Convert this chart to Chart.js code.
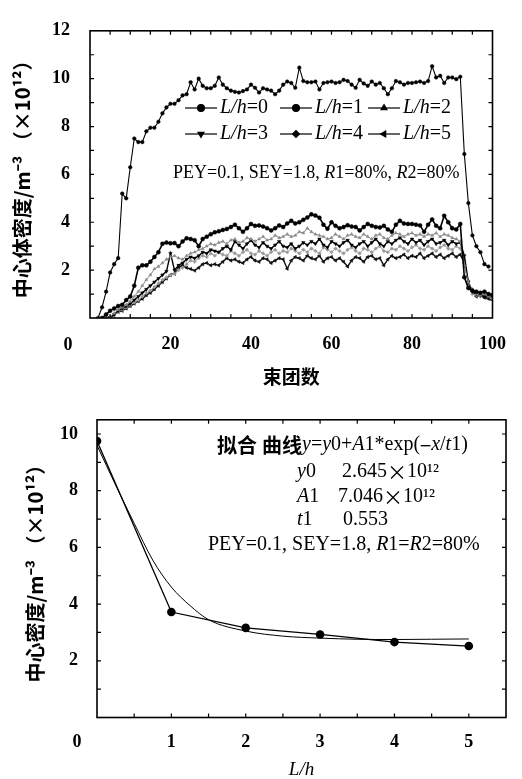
<!DOCTYPE html>
<html>
<head>
<meta charset="utf-8">
<script src="https://cdn.jsdelivr.net/npm/chart.js@4.4.1/dist/chart.umd.min.js"></script>
<style>
  body { margin: 0; background: #fff; }
  canvas { display: block; }
</style>
</head>
<body>
<canvas id="bunch-chart" width="522" height="390"></canvas>
<canvas id="fit-chart" width="522" height="389"></canvas>
<script>
// bunch index (x) for the upper plot
const bunches = [
  1, 2, 3, 4, 5, 6, 7, 8, 9, 10, 11, 12, 13, 14, 15, 16, 17, 18, 19, 20,
  21, 22, 23, 24, 25, 26, 27, 28, 29, 30, 31, 32, 33, 34, 35, 36, 37, 38, 39, 40,
  41, 42, 43, 44, 45, 46, 47, 48, 49, 50, 51, 52, 53, 54, 55, 56, 57, 58, 59, 60,
  61, 62, 63, 64, 65, 66, 67, 68, 69, 70, 71, 72, 73, 74, 75, 76, 77, 78, 79, 80,
  81, 82, 83, 84, 85, 86, 87, 88, 89, 90, 91, 92, 93, 94, 95, 96, 97, 98, 99, 100,
];

const seriesNames = ['L/h=0', 'L/h=1', 'L/h=2', 'L/h=3', 'L/h=4', 'L/h=5'];

// center density (x10^12 m^-3) per bunch
const lh0 = [
  null, 0, 0.45, 1.1, 1.9, 2.25, 2.5, 5.2, 5.0, 6.3,
  7.5, 7.35, 7.35, 7.8, 7.95, 7.95, 8.2, 8.55, 8.8, 8.95,
  8.95, 9.1, 9.3, 9.35, 9.85, 9.55, 10.0, 9.7, 9.6, 9.6,
  9.7, 10.05, 9.75, 9.6, 9.5, 9.45, 9.42, 9.48, 9.55, 9.75,
  9.62, 9.42, 9.6, 9.55, 9.5, 9.35, 9.5, 9.75, 9.88, 9.82,
  9.62, 10.46, 9.9, 9.85, 9.85, 9.88, 9.55, 9.82, 9.85, 9.88,
  9.82, 9.85, 9.95, 9.9, 9.75, 9.62, 9.95, 9.8, 9.7, 9.88,
  9.75, 9.82, 9.6, 9.35, 9.6, 9.9, 9.85, 9.75, 9.82, 9.82,
  9.85, 9.88, 9.82, 9.9, 10.52, 10.05, 10.12, 9.82, 10.05, 10.05,
  9.98, 10.08, 6.85, 4.8, 3.45, 3.0, 2.75, 2.25, 2.15, null,
];
const lh1 = [
  null, null, 0, 0.15, 0.3, 0.4, 0.5, 0.55, 0.75, 0.9,
  1.35, 2.1, 2.2, 2.2, 2.35, 2.55, 2.75, 3.1, 3.15, 3.12,
  3.13, 3.0, 3.2, 3.33, 3.3, 3.25, 3.0, 3.3, 3.4, 3.5,
  3.58, 3.62, 3.68, 3.72, 3.8, 3.9, 3.75, 3.6, 3.75, 3.93,
  3.85, 3.87, 3.82, 3.75, 3.66, 3.75, 3.87, 3.8, 3.95, 4.06,
  3.95, 4.0, 4.1, 4.2, 4.33, 4.28, 4.19, 3.9, 3.73, 4.0,
  3.85, 3.75, 3.8, 3.88, 3.82, 3.8, 3.66, 3.8, 3.93, 3.85,
  3.8, 3.78, 3.85, 3.7, 3.6, 3.9, 4.06, 3.95, 3.93, 3.93,
  3.9, 3.87, 3.6, 3.9, 4.12, 3.85, 3.75, 4.27, 4.0, 3.75,
  3.7, 3.93, 1.7, 1.25, 1.15, 1.1, 1.05, 1.1, 1.0, 0.95,
];
const lh2 = [
  null, null, null, 0, 0.05, 0.2, 0.35, 0.45, 0.55, 0.7,
  0.9, 1.1, 1.35, 1.6, 1.8, 2.05, 2.15, 2.3, 2.45, 2.55,
  2.6, 2.5, 2.45, 2.6, 2.7, 2.75, 2.85, 2.9, 3.0, 3.1,
  3.05, 3.15, 3.2, 3.1, 3.25, 3.3, 3.15, 3.2, 3.35, 3.3,
  3.2, 3.3, 3.4, 3.25, 3.3, 3.45, 3.35, 3.4, 3.5, 3.4,
  3.45, 3.6, 3.55, 3.75, 3.6, 3.5, 3.45, 3.4, 3.3, 3.35,
  3.5, 3.4, 3.3, 3.45, 3.5, 3.4, 3.35, 3.5, 3.4, 3.3,
  3.45, 3.5, 3.35, 3.3, 3.45, 3.55, 3.5, 3.4, 3.5, 3.55,
  3.45, 3.5, 3.4, 3.5, 3.45, 3.55, 3.4, 3.5, 3.45, 3.35,
  3.3, 3.2, 2.2, 1.5, 1.2, 1.0, 0.95, 1.0, 0.9, 0.85,
];
const lh3 = [
  null, null, null, null, 0, 0.15, 0.3, 0.4, 0.5, 0.6,
  0.75, 0.9, 1.05, 1.2, 1.35, 1.5, 1.65, 1.8, 1.95, 2.7,
  2.0, 2.2, 2.3, 2.45, 2.55, 2.5, 2.6, 2.75, 2.7, 2.85,
  2.8, 2.75, 2.9, 3.0, 2.85, 3.2, 3.05, 2.9, 3.1, 3.25,
  3.05, 2.95, 3.15, 3.0, 2.9, 3.05, 3.2, 3.0, 2.95, 3.1,
  2.9, 3.0, 3.15, 3.05, 3.2, 3.1, 3.3, 3.05, 2.95, 3.2,
  3.1, 3.0, 3.15, 3.25, 3.05, 2.95, 3.1, 3.2, 3.0, 3.15,
  3.3, 3.1, 3.0, 3.2, 3.1, 3.25, 3.35, 3.2, 3.1, 3.3,
  3.15, 3.25, 3.05, 3.2, 3.3, 3.1, 3.15, 3.25, 3.05, 3.2,
  3.1, 3.15, 2.6, 1.5, 1.1, 1.0, 0.95, 0.9, 0.85, 0.9,
];
const lh4 = [
  null, null, null, null, 0, 0.1, 0.25, 0.35, 0.45, 0.55,
  0.65, 0.75, 0.9, 1.05, 1.15, 1.3, 1.45, 1.6, 1.7, 1.8,
  1.85, 2.0, 2.1, 2.25, 2.4, 2.35, 2.5, 2.6, 2.55, 2.7,
  2.6, 2.75, 2.65, 2.6, 2.8, 2.7, 2.6, 2.75, 2.85, 2.7,
  2.65, 2.8, 2.7, 2.6, 2.75, 2.85, 2.7, 2.8, 2.75, 2.9,
  2.8, 2.7, 2.85, 2.75, 2.9, 2.8, 2.7, 2.95, 2.85, 2.75,
  2.9, 2.8, 2.7, 2.85, 2.95, 2.8, 2.7, 2.9, 2.85, 2.75,
  2.9, 3.0, 2.8, 2.75, 2.9, 2.85, 3.0, 2.9, 2.8, 2.95,
  3.05, 2.9, 2.85, 3.0, 2.9, 2.8, 2.95, 3.05, 2.9, 2.85,
  3.0, 2.9, 2.4, 1.3, 1.0, 0.95, 0.9, 0.95, 0.85, 0.8,
];
const lh5 = [
  null, null, null, 0, 0.05, 0.15, 0.25, 0.3, 0.4, 0.5,
  0.6, 0.7, 0.8, 0.95, 1.05, 1.2, 1.35, 1.5, 1.65, 1.8,
  1.85, 2.1, 2.2, 2.1, 2.05, 1.98, 2.1, 2.25, 2.3, 2.2,
  2.25, 2.2, 2.35, 2.5, 2.4, 2.45, 2.35, 2.3, 2.45, 2.55,
  2.4, 2.35, 2.5, 2.45, 2.3, 2.4, 2.5, 2.45, 2.06, 2.4,
  2.55, 2.5, 2.4, 2.6, 2.5, 2.45, 2.6, 2.35, 2.5, 2.55,
  2.4, 2.5, 2.35, 2.15, 2.4, 2.55, 2.5, 2.35, 2.55, 2.6,
  2.45, 2.5, 2.2, 2.45, 2.6, 2.5, 2.55, 2.65, 2.5, 2.6,
  2.55, 2.7, 2.5, 2.6, 2.7, 2.55, 2.65, 2.5, 2.6, 2.7,
  2.55, 2.65, 2.3, 1.5, 1.1, 0.9, 0.95, 0.85, 0.8, 0.75,
];

// lower plot: mean center density vs L/h, and the fitted curve
const lhRatio = [0, 1, 2, 3, 4, 5];
const centerDensity = [9.75, 3.72, 3.16, 2.93, 2.66, 2.52];
const fitX = [0, 0.25, 0.5, 0.75, 1, 1.25, 1.5, 2, 2.5, 3, 3.5, 4, 4.5, 5];
const fitY = [9.6, 8.2, 6.85, 5.55, 4.6, 3.95, 3.45, 3.05, 2.87, 2.8, 2.76, 2.75, 2.76, 2.77];

const SERIF = "'Liberation Serif', 'DejaVu Serif', serif";
const CJK = "'Noto Sans CJK SC', sans-serif";

const seriesStyles = [
  { borderColor: '#000', borderWidth: 1.1, pointRadius: 1.8, pointStyle: 'circle', pointRotation: 0 },
  { borderColor: '#000', borderWidth: 1.6, pointRadius: 2, pointStyle: 'circle', pointRotation: 0 },
  { borderColor: '#8a8a8a', borderWidth: 1, pointRadius: 1.8, pointStyle: 'triangle', pointRotation: 0 },
  { borderColor: '#000', borderWidth: 1.4, pointRadius: 2, pointStyle: 'triangle', pointRotation: 180 },
  { borderColor: '#9a9a9a', borderWidth: 1, pointRadius: 1.8, pointStyle: 'rectRot', pointRotation: 0 },
  { borderColor: '#111', borderWidth: 1.4, pointRadius: 2, pointStyle: 'triangle', pointRotation: 270 },
];

const drawRuns = (ctx, x, y, runs) => {
  runs.forEach(([text, font]) => {
    ctx.font = font;
    ctx.fillText(text, x, y);
    x += ctx.measureText(text).width;
  });
};

// box frame with inward tick marks on all four sides
const frameTicks = {
  id: 'frameTicks',
  afterDatasetsDraw(chart) {
    const { ctx, chartArea: a, scales: { x, y } } = chart;
    const len = 4;
    ctx.save();
    ctx.strokeStyle = '#000';
    ctx.lineWidth = 1.2;
    ctx.beginPath();
    x.ticks.forEach((t) => {
      const p = x.getPixelForValue(t.value);
      if (p <= a.left + 1 || p >= a.right - 1) return;
      ctx.moveTo(p, a.bottom);
      ctx.lineTo(p, a.bottom - len);
      ctx.moveTo(p, a.top);
      ctx.lineTo(p, a.top + len);
    });
    y.ticks.forEach((t) => {
      const p = y.getPixelForValue(t.value);
      if (p <= a.top + 1 || p >= a.bottom - 1) return;
      ctx.moveTo(a.left, p);
      ctx.lineTo(a.left + len, p);
      ctx.moveTo(a.right, p);
      ctx.lineTo(a.right - len, p);
    });
    ctx.stroke();
    ctx.lineWidth = 1.6;
    ctx.strokeRect(a.left, a.top, a.right - a.left, a.bottom - a.top);
    ctx.restore();
  },
};

// shared "0" at the lower-left corner
const originLabel = (dx, dy) => ({
  id: 'originLabel',
  afterDraw(chart) {
    const { ctx, chartArea: a } = chart;
    ctx.save();
    ctx.fillStyle = '#000';
    ctx.font = `bold 18px ${SERIF}`;
    ctx.textAlign = 'center';
    ctx.textBaseline = 'middle';
    ctx.fillText('0', a.left + dx, a.bottom + dy);
    ctx.restore();
  },
});

const notes = (lines) => ({
  id: 'notes',
  afterDraw(chart) {
    const { ctx } = chart;
    ctx.save();
    ctx.fillStyle = '#000';
    ctx.textBaseline = 'middle';
    lines.forEach((l) => drawRuns(ctx, l.x, l.y, l.runs));
    ctx.restore();
  },
});

const lineLegend = {
  id: 'lineLegend',
  afterDatasetsDraw(chart) {
    const { ctx } = chart;
    const colX = [185, 280, 368];
    const rowY = [108, 134];
    ctx.save();
    ctx.textBaseline = 'middle';
    chart.data.datasets.forEach((ds, i) => {
      const x = colX[i % 3];
      const y = rowY[Math.floor(i / 3)];
      ctx.strokeStyle = '#000';
      ctx.fillStyle = '#000';
      ctx.lineWidth = 1.2;
      ctx.beginPath();
      ctx.moveTo(x, y);
      ctx.lineTo(x + 32, y);
      ctx.stroke();
      if (Chart.helpers && Chart.helpers.drawPoint) {
        Chart.helpers.drawPoint(ctx, {
          pointStyle: ds.pointStyle, rotation: ds.pointRotation, radius: 3.4, borderWidth: 1,
        }, x + 16, y);
      }
      const [name, val] = ds.label.split('=');
      drawRuns(ctx, x + 35, y, [[name, `italic 20px ${SERIF}`], ['=' + val, `20px ${SERIF}`]]);
    });
    ctx.restore();
  },
};

const tickFont = { family: SERIF, size: 18, weight: 'bold' };
const noGrid = { display: false, drawTicks: false };

new Chart(document.getElementById('bunch-chart'), {
  type: 'line',
  data: {
    datasets: [lh0, lh1, lh2, lh3, lh4, lh5].map((vals, i) => ({
      label: seriesNames[i],
      data: vals.map((v, k) => ({ x: bunches[k], y: v })),
      pointBackgroundColor: seriesStyles[i].borderColor,
      pointBorderColor: seriesStyles[i].borderColor,
      pointBorderWidth: 0.5,
      tension: 0,
      ...seriesStyles[i],
    })),
  },
  options: {
    responsive: false,
    animation: false,
    layout: { padding: { left: 0, right: 20, top: 19, bottom: 0 } },
    scales: {
      x: {
        type: 'linear',
        min: 0,
        max: 100,
        grid: noGrid,
        border: { display: false },
        ticks: {
          stepSize: 5,
          autoSkip: false,
          maxRotation: 0,
          padding: 16,
          color: '#000',
          font: tickFont,
          callback: (v) => (v > 0 && v % 20 === 0 ? v : ''),
        },
        title: {
          display: true,
          text: '束团数',
          color: '#000',
          font: { family: CJK, size: 19, weight: 'bold' },
          padding: { top: 0, bottom: 2 },
        },
        afterFit: (s) => { s.height = 72; },
      },
      y: {
        min: 0,
        max: 12,
        grid: noGrid,
        border: { display: false },
        ticks: {
          stepSize: 1,
          autoSkip: false,
          padding: 20,
          color: '#000',
          font: tickFont,
          callback: (v) => (v > 0 && v % 2 === 0 ? v : ''),
        },
        title: {
          display: true,
          text: '中心体密度/m⁻³ （×10¹²）',
          color: '#000',
          font: { family: CJK, size: 20, weight: 'bold' },
          padding: { top: 10, bottom: 0 },
        },
        afterFit: (s) => { s.width = 90; },
      },
    },
    plugins: { legend: { display: false }, tooltip: { enabled: false } },
  },
  plugins: [
    frameTicks,
    lineLegend,
    originLabel(-22, 27),
    notes([
      {
        x: 173,
        y: 173,
        runs: [
          ['PEY=0.1, SEY=1.8, ', `18px ${SERIF}`], ['R', `italic 18px ${SERIF}`],
          ['1=80%, ', `18px ${SERIF}`], ['R', `italic 18px ${SERIF}`], ['2=80%', `18px ${SERIF}`],
        ],
      },
    ]),
  ],
});

const n20 = `20px ${SERIF}`;
const i20 = `italic 20px ${SERIF}`;
const cjk20 = `20px ${CJK}`;

new Chart(document.getElementById('fit-chart'), {
  type: 'line',
  data: {
    datasets: [
      {
        label: 'L/h',
        data: lhRatio.map((x, i) => ({ x, y: centerDensity[i] })),
        borderColor: '#000',
        borderWidth: 1.3,
        pointRadius: 4.3,
        pointBackgroundColor: '#000',
        pointBorderWidth: 0,
        tension: 0,
      },
      {
        label: 'fit',
        data: fitX.map((x, i) => ({ x, y: fitY[i] })),
        borderColor: '#000',
        borderWidth: 1,
        pointRadius: 0,
        cubicInterpolationMode: 'monotone',
      },
    ],
  },
  options: {
    responsive: false,
    animation: false,
    layout: { padding: { left: 0, right: 16, top: 25, bottom: 0 } },
    scales: {
      x: {
        type: 'linear',
        min: 0,
        max: 5.5,
        grid: noGrid,
        border: { display: false },
        ticks: {
          stepSize: 0.5,
          autoSkip: false,
          maxRotation: 0,
          includeBounds: false,
          padding: 14,
          color: '#000',
          font: tickFont,
          callback: (v) => (v > 0 && Number.isInteger(v) ? v : ''),
        },
        title: {
          display: true,
          text: 'L/h',
          color: '#000',
          font: { family: SERIF, size: 19, style: 'italic', lineHeight: 1 },
          padding: { top: 0, bottom: 0 },
        },
        afterFit: (s) => { s.height = 61.5; },
      },
      y: {
        min: 0,
        max: 10.5,
        grid: noGrid,
        border: { display: false },
        ticks: {
          stepSize: 1,
          autoSkip: false,
          includeBounds: false,
          padding: 19,
          color: '#000',
          font: tickFont,
          callback: (v) => (v > 0 && v % 2 === 0 ? v : ''),
        },
        title: {
          display: true,
          text: '中心密度/m⁻³ （×10¹²）',
          color: '#000',
          font: { family: CJK, size: 20, weight: 'bold' },
          padding: { top: 23, bottom: 0 },
        },
        afterFit: (s) => { s.width = 97; },
      },
    },
    plugins: { legend: { display: false }, tooltip: { enabled: false } },
  },
  plugins: [
    frameTicks,
    originLabel(-20, 24.5),
    notes([
      {
        x: 217,
        y: 55,
        runs: [
          ['拟合', `bold 20px ${CJK}`], [' ', n20], ['曲线', `bold 20px ${CJK}`],
          ['y', i20], ['=', n20], ['y', i20], ['0+', n20],
          ['A', i20], ['1*exp(', n20], ['−', cjk20], ['x', i20], ['/', n20], ['t', i20], ['1)', n20],
        ],
      },
      { x: 297, y: 82, runs: [['y', i20], ['0', n20]] },
      { x: 342, y: 82, runs: [['2.645', n20], ['×', cjk20], ['10¹²', n20]] },
      { x: 297, y: 107, runs: [['A', i20], ['1', n20]] },
      { x: 338, y: 107, runs: [['7.046', n20], ['×', cjk20], ['10¹²', n20]] },
      { x: 297, y: 130, runs: [['t', i20], ['1', n20]] },
      { x: 343, y: 130, runs: [['0.553', n20]] },
      {
        x: 208,
        y: 155,
        runs: [
          ['PEY=0.1, SEY=1.8, ', n20], ['R', i20], ['1=', n20], ['R', i20], ['2=80%', n20],
        ],
      },
    ]),
  ],
});
</script>
</body>
</html>
